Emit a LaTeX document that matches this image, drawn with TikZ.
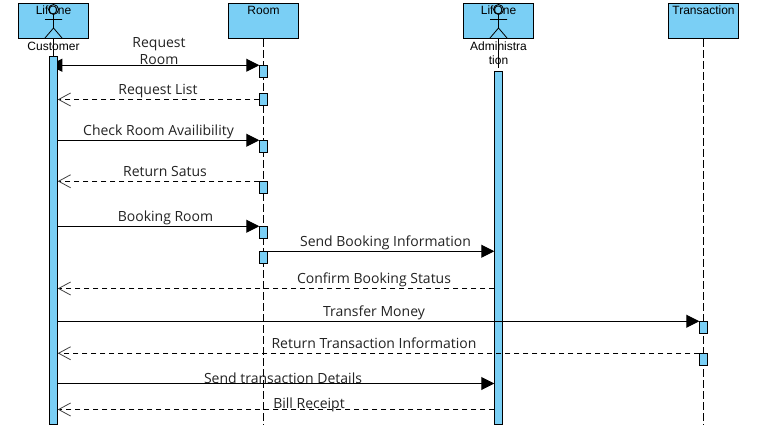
\documentclass[tikz,border=0pt]{standalone}
\usepackage{fontspec}
\setmainfont{Open Sans}
\newfontfamily\headfont{Liberation Sans}
\usepackage{xcolor}
\usepackage{tikz}
\usetikzlibrary{arrows.meta,backgrounds}
\definecolor{lifeblue}{HTML}{7ACFF5}
\definecolor{textgray}{HTML}{222222}
\tikzset{
  headbox/.style={draw=black, fill=lifeblue, line width=1pt, minimum width=70pt, minimum height=35pt, inner sep=0pt},
  actbar/.style={draw=black, fill=lifeblue, line width=1pt, minimum width=7.5pt, inner sep=0pt},
  smallbar/.style={actbar, minimum height=11.5pt},
  headtext/.style={text=black, inner sep=0pt, align=center, font=\headfont\fontsize{12}{14}\selectfont},
  msgtext/.style={text=textgray, inner sep=0pt, align=center, font=\fontsize{14}{17}\selectfont},
  lifeline/.style={black, line width=1pt, dash pattern=on 8pt off 3pt},
  callmsg/.style={black, line width=1pt, -{Triangle[length=13pt,width=13pt]}},
  backmsg/.style={black, line width=1pt, dash pattern=on 5pt off 4pt, -{Straight Barb[length=12pt,width=13pt,line width=0.8pt,color=black!75]}}
}
\begin{document}
\begin{tikzpicture}[x=1pt,y=-1pt]
\useasboundingbox (0,0) rectangle (757,446);
% header boxes
\node[headbox] (custbox) at (53.5,21) {};
\node[headbox] (roombox) at (263.5,21) {};
\node[headbox] (admbox) at (498.5,21) {};
\node[headbox] (transbox) at (703.5,21) {};
\node[headtext] (custhead) at (53.5,10) {LifOne};
\node[headtext] (roomhead) at (263.5,10) {Room};
\node[headtext] (admhead) at (498.5,10) {LifOne};
\node[headtext] (transhead) at (703.5,10) {Transaction};
% activation bars
\node[actbar, minimum height=367.5pt] (custbar) at (53.5,240.25) {};
\node[actbar, minimum height=352.5pt] (admbar) at (498.5,247.75) {};
\node[smallbar] (room1) at (263.5,71.5) {};
\node[smallbar] (room2) at (263.5,99.5) {};
\node[smallbar] (room3) at (263.5,146.5) {};
\node[smallbar] (room4) at (263.5,187.5) {};
\node[smallbar] (room5) at (263.5,232.5) {};
\node[smallbar] (room6) at (263.5,257.5) {};
\node[smallbar] (trans1) at (703.5,327.5) {};
\node[smallbar] (trans2) at (703.5,359.5) {};
% free ends
\coordinate (roomend) at (263.5,424.5);
\coordinate (transend) at (703.5,424.5);
\coordinate (custneck) at (53.5,28);
\coordinate (admneck) at (498.5,28);
\coordinate (admfoot) at (498.5,68);
\coordinate (confirmy) at (400,288.5);
\coordinate (sendy) at (400,383.5);
\coordinate (billy) at (400,409.5);
% lifelines and the double arrow run under the bars
\begin{scope}[on background layer]
\draw[lifeline] (roombox.south) -- (roomend);
\draw[lifeline] (transbox.south) -- (transend);
\draw[black, line width=1pt] (custneck) -- (custbar.north);
\draw[black, line width=1pt] (admneck) -- (admfoot);
\draw[black, line width=1pt, {Triangle[length=13pt,width=13pt]}-{Triangle[length=13pt,width=13pt]}] (custbar.west |- room1.north west) -- (room1.north west);
\end{scope}
% actors
\draw[black, line width=0.8pt] (53.5,9.5) circle (5pt);
\draw[black, line width=0.8pt] (53.5,14.5) -- (custneck) (45,19.5) -- (62,19.5) (45,38) -- (custneck) -- (62,38);
\draw[black, line width=0.8pt] (498.5,9.5) circle (5pt);
\draw[black, line width=0.8pt] (498.5,14.5) -- (admneck) (490,19.5) -- (507,19.5) (490,38) -- (admneck) -- (507,38);
\node[headtext] (custname) at (53.5,46) {Customer};
\node[headtext] (admname) at (498.5,53) {Administra\\tion};
% messages
\draw[backmsg] (room2.west) -- (custbar.east |- room2.west);
\draw[callmsg] (custbar.east |- room3.north west) -- (room3.north west);
\draw[backmsg] (room4.north west) -- (custbar.east |- room4.north west);
\draw[callmsg] (custbar.east |- room5.north west) -- (room5.north west);
\draw[callmsg] (room6.north east) -- (admbar.west |- room6.north east);
\draw[backmsg] (admbar.west |- confirmy) -- (custbar.east |- confirmy);
\draw[callmsg] (custbar.east |- trans1.north west) -- (trans1.north west);
\draw[backmsg] (trans2.north west) -- (custbar.east |- trans2.north west);
\draw[callmsg] (custbar.east |- sendy) -- (admbar.west |- sendy);
\draw[backmsg] (admbar.west |- billy) -- (custbar.east |- billy);
% message labels
\node[msgtext] (lreq) at (159,51) {Request\\Room};
\node[msgtext] (llist) at (158,91.5) {Request List};
\node[msgtext] (lcheck) at (158.5,131.5) {Check Room Availibility};
\node[msgtext] (lreturn) at (165,172) {Return Satus};
\node[msgtext] (lbook) at (165.5,217.5) {Booking Room};
\node[msgtext] (lsend) at (385.5,242.5) {Send Booking Information};
\node[msgtext] (lconf) at (374,279.5) {Confirm Booking Status};
\node[msgtext] (lmoney) at (374,312.5) {Transfer Money};
\node[msgtext] (lrettr) at (374,343.5) {Return Transaction Information};
\node[msgtext] (ldetail) at (283,378.5) {Send transaction Details};
\node[msgtext] (lbill) at (309,404.5) {Bill Receipt};
\end{tikzpicture}
\end{document}
